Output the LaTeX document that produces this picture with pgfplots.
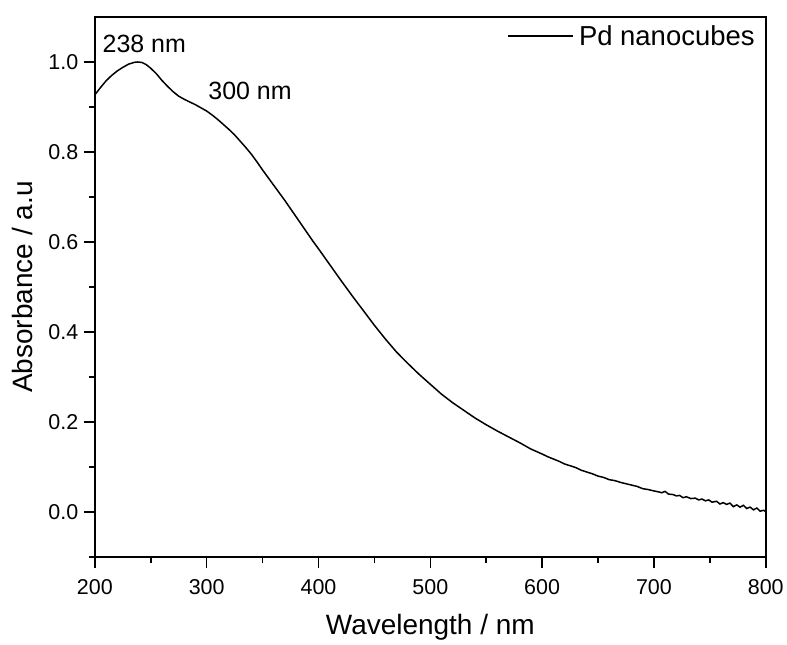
\documentclass[border=0pt]{standalone}
\usepackage{fontspec}
\setmainfont{Liberation Sans}
\usepackage{pgfplots}
\pgfplotsset{compat=1.18}
\begin{document}
\begin{tikzpicture}
\begin{axis}[
  name=ax,
  scale only axis,
  width=672pt, height=541pt,
  xmin=200, xmax=800, ymin=-0.1, ymax=1.1,
  xtick={200,300,...,800},
  minor xtick={250,350,...,750},
  ytick={0,0.2,...,1.0},
  minor ytick={-0.1,0.1,0.3,0.5,0.7,0.9},
  xtick pos=bottom, ytick pos=left,
  tick align=outside,
  major tick length=11pt, minor tick length=6pt,
  every tick/.style={line width=1.6pt, black},
  axis line style={line width=1.6pt},
  /pgf/number format/assume math mode=true,
  yticklabel style={/pgf/number format/fixed, /pgf/number format/fixed zerofill, /pgf/number format/precision=1, font=\fontsize{21.5}{24}\selectfont, xshift=-2pt},
  xticklabel style={font=\fontsize{21.5}{24}\selectfont, yshift=-8pt},
  xlabel={Wavelength / nm},
  ylabel={Absorbance / a.u},
  xlabel style={font=\fontsize{28}{32}\selectfont, at={([yshift=-78pt]axis description cs:0.5,0)}, anchor=base},
  ylabel style={font=\fontsize{28}{32}\selectfont, at={([xshift=-62pt]axis description cs:0,0.5)}, anchor=base, rotate=0},
  clip=false,
  legend style={at={(1,1)}, anchor=north east, draw=none, fill=none, font=\fontsize{27.5}{32}\selectfont, xshift=-6pt, yshift=-4pt, column sep=3pt},
  legend image code/.code={\draw[#1] (0pt,0pt) -- (65pt,0pt);},
]
\addplot[black, line width=1.5pt] coordinates {
(200,0.927)(205,0.943)(210,0.958)(215,0.970)(220,0.980)(225,0.988)(230,0.995)(235,0.999)(238,1.000)(242,0.999)(246,0.994)(250,0.986)(255,0.974)(260,0.959)(265,0.946)(270,0.934)(275,0.924)(280,0.917)(285,0.911)(290,0.905)(295,0.898)(300,0.891)(305,0.882)(310,0.872)(315,0.861)(320,0.850)(325,0.838)(330,0.824)(335,0.810)(340,0.795)(345,0.778)(350,0.760)(355,0.743)(360,0.726)(365,0.709)(370,0.692)(375,0.674)(380,0.656)(385,0.638)(390,0.620)(395,0.602)(400,0.585)(410,0.550)(420,0.515)(430,0.481)(440,0.448)(450,0.415)(460,0.384)(470,0.355)(480,0.330)(490,0.306)(500,0.284)(510,0.262)(520,0.243)(530,0.226)(540,0.209)(550,0.194)(560,0.180)(570,0.167)(580,0.154)(590,0.140)(600,0.129)(605,0.123)(610,0.118)(615,0.113)(620,0.107)(625,0.103)(630,0.099)(635,0.093)(640,0.089)(645,0.085)(650,0.080)(655,0.077)(660,0.072)(665,0.070)(670,0.066)(675,0.063)(680,0.060)(685,0.057)(690,0.052)(695,0.050)(700,0.047)(704,0.045)(707,0.043)(710,0.046)(713,0.040)(717,0.039)(720,0.036)(723,0.037)(726,0.032)(729,0.034)(733,0.030)(737,0.031)(740,0.027)(743,0.029)(746,0.025)(749,0.027)(752,0.022)(756,0.024)(759,0.018)(762,0.021)(765,0.017)(768,0.020)(771,0.012)(774,0.016)(777,0.011)(780,0.015)(783,0.008)(786,0.011)(789,0.005)(792,0.009)(795,0.002)(798,0.004)(800,0.001)
};
\addlegendentry{Pd nanocubes}
\node[font=\fontsize{25}{29}\selectfont] at (axis cs:244.2,1.040) {238 nm};
\node[font=\fontsize{25}{29}\selectfont] at (axis cs:338.8,0.935) {300 nm};
\end{axis}
\path ([shift={(-95pt,-84pt)}]ax.south west) rectangle ([shift={(20pt,17pt)}]ax.north east);
\end{tikzpicture}
\end{document}
